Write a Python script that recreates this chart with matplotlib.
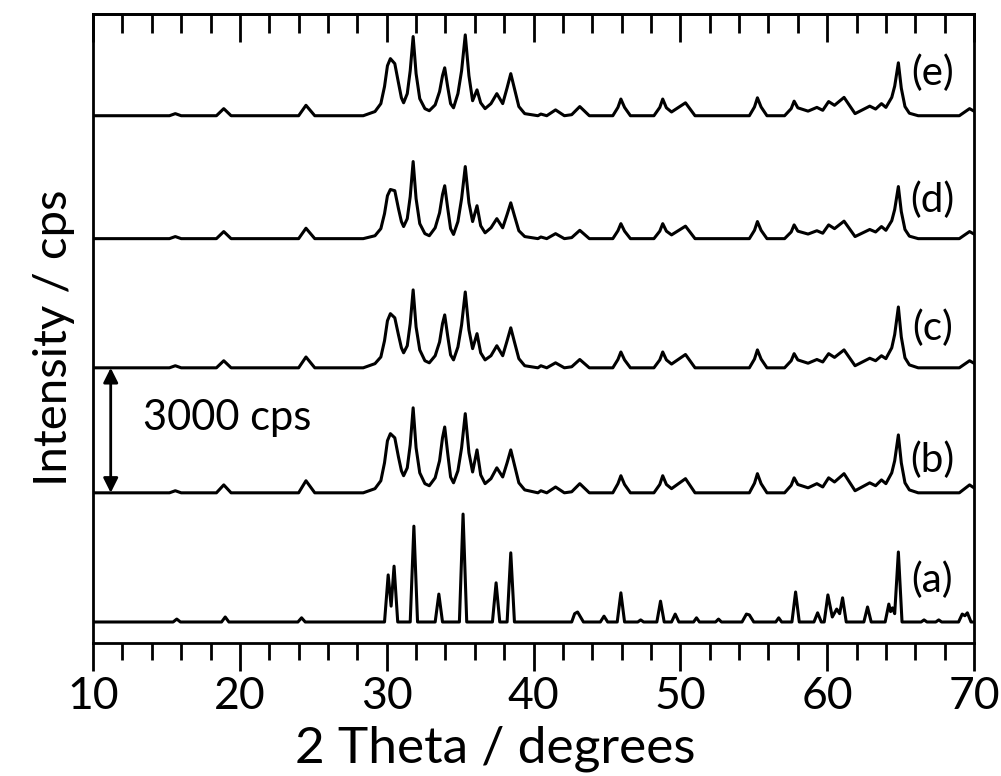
# -*- coding: utf-8 -*-
"""
XRD patterns (a)-(e), stacked with offsets
"""

# ============================================================
# Import Libraries
# ============================================================

import numpy as np
import matplotlib
matplotlib.use("Agg")
import matplotlib.pyplot as plt

plt.rcParams['font.family'] = ['Lato', 'DejaVu Sans']

# ============================================================
# Data (2 theta in degrees, intensity in cps above own baseline)
# ============================================================

# (a) reference pattern: sharp lines, vertices
pattern_a = [
    (10, 0), (15.45, 0), (15.7, 70), (15.95, 0),
    (18.75, 0), (19.0, 120), (19.25, 0),
    (23.95, 0), (24.2, 100), (24.45, 0),
    (29.85, 0), (30.1, 1130), (30.3, 380), (30.5, 1340), (30.75, 0),
    (31.6, 0), (31.85, 2300), (32.1, 0),
    (33.3, 0), (33.55, 670), (33.8, 0),
    (34.95, 0), (35.2, 2590), (35.45, 0),
    (37.2, 0), (37.45, 940), (37.7, 0),
    (38.2, 0), (38.45, 1660), (38.7, 0),
    (42.6, 0), (42.8, 200), (43.0, 240), (43.4, 0),
    (44.55, 0), (44.8, 140), (45.05, 0),
    (45.7, 0), (45.95, 700), (46.2, 0),
    (47.1, 0), (47.3, 50), (47.5, 0),
    (48.4, 0), (48.65, 500), (48.9, 0),
    (49.4, 0), (49.65, 190), (49.9, 0),
    (50.9, 0), (51.1, 100), (51.3, 0),
    (52.4, 0), (52.6, 70), (52.8, 0),
    (54.2, 0), (54.5, 190), (54.7, 170), (55.0, 0),
    (56.5, 0), (56.7, 100), (56.9, 0),
    (57.6, 0), (57.85, 720), (58.1, 0),
    (59.1, 0), (59.35, 220), (59.6, 0),
    (59.8, 0), (60.05, 650), (60.35, 120), (60.65, 310), (60.85, 200),
    (61.05, 580), (61.3, 0),
    (62.5, 0), (62.75, 360), (63.0, 0),
    (63.95, 0), (64.2, 430), (64.32, 250), (64.45, 340), (64.6, 200),
    (64.85, 1680), (65.1, 0),
    (66.4, 0), (66.6, 50), (66.8, 0),
    (67.4, 0), (67.6, 50), (67.8, 0),
    (68.95, 0), (69.2, 190), (69.38, 150), (69.55, 220), (69.8, 0), (70, 0),
]

# (b)-(e) broad patterns share one set of 2 theta vertices
tt_g1 = [10.0, 15.2, 15.6, 16.0, 18.4, 18.9, 19.4, 24.0, 24.5, 25.1, 28.4]
tt_g2 = [29.2, 29.6, 29.85, 30.05, 30.25, 30.55, 30.8, 31.0, 31.15, 31.4, 31.6,
         31.8, 32.0, 32.25, 32.6, 32.9, 33.3, 33.6, 33.8, 33.95, 34.15, 34.35,
         34.55, 34.85, 35.1, 35.35, 35.6, 35.85, 36.15, 36.4, 36.7, 37.1, 37.5,
         37.9, 38.2, 38.45, 38.7, 39.0, 39.4]
tt_g4 = [40.3, 40.5, 40.9, 41.5, 42.1, 42.6, 43.15, 43.8, 45.4, 45.75, 45.95,
         46.2, 46.6]
tt_g5 = [48.2, 48.6, 48.8, 49.05, 49.4, 50.35, 51.0, 54.7, 55.05, 55.25, 55.5,
         55.9, 57.1, 57.55, 57.75, 58.0, 58.7]
tt_g6 = [59.3, 59.7, 60.1, 60.5, 61.15, 61.9, 62.9, 63.3, 63.7, 64.0, 64.4,
         64.6, 64.85, 65.05, 65.3, 65.6, 66.2, 69.0, 69.7, 70.0]

int_b = ([0, 0, 50, 0, 0, 190, 0, 0, 290, 0, 0]
         + [100, 290, 720, 1250, 1420, 1320, 860, 530, 410, 600, 1150,
            2040, 1080, 480, 220, 170, 360, 770, 1320, 1580, 960, 380,
            240, 530, 1080, 1900, 960, 500, 1030, 430, 220, 340, 600,
            380, 720, 1030, 670, 240, 70]
         + [0, 50, 0, 140, 0, 25, 220, 0, 0, 220, 410, 200, 0]
         + [0, 200, 410, 200, 100, 340, 0, 0, 230, 460, 220, 0, 0, 180, 360, 200, 120]
         + [220, 140, 360, 260, 460, 50, 240, 170, 310, 220, 480, 770, 1390,
            720, 240, 70, 0, 0, 190, 120])

int_c = ([0, 0, 50, 0, 0, 170, 0, 0, 260, 0, 0]
         + [100, 260, 650, 1130, 1300, 1200, 790, 480, 360, 530, 1060,
            1870, 980, 430, 170, 120, 290, 620, 1060, 1270, 770, 310,
            190, 500, 1030, 1820, 910, 460, 820, 360, 190, 290, 530,
            290, 650, 960, 620, 220, 50]
         + [0, 50, 0, 120, 0, 25, 200, 0, 0, 200, 380, 190, 0]
         + [0, 190, 380, 190, 90, 320, 0, 0, 210, 430, 210, 0, 0, 170, 340, 190, 110]
         + [200, 140, 340, 250, 430, 50, 230, 170, 290, 220, 480, 800, 1460,
            740, 240, 70, 0, 0, 170, 110])

int_d = ([0, 0, 50, 0, 0, 170, 0, 0, 250, 0, 0]
         + [70, 240, 600, 1030, 1180, 1150, 720, 410, 290, 480, 1010,
            1850, 960, 360, 120, 70, 260, 620, 1060, 1270, 740, 240,
            100, 410, 960, 1730, 860, 410, 790, 310, 140, 260, 480,
            260, 580, 860, 550, 190, 50]
         + [0, 40, 0, 120, 0, 25, 200, 0, 0, 190, 360, 180, 0]
         + [0, 180, 360, 180, 90, 300, 0, 0, 200, 410, 200, 0, 0, 160, 330, 180, 110]
         + [190, 130, 330, 240, 420, 50, 220, 160, 290, 200, 430, 700, 1250,
            650, 220, 60, 0, 0, 170, 110])

int_e = ([0, 0, 50, 0, 0, 170, 0, 0, 250, 0, 0]
         + [100, 290, 700, 1200, 1370, 1250, 790, 430, 310, 530, 1080,
            1900, 1010, 410, 170, 120, 260, 580, 960, 1150, 700, 290,
            190, 530, 1080, 1940, 960, 360, 620, 310, 170, 290, 530,
            290, 670, 1010, 650, 220, 50]
         + [0, 40, 0, 140, 0, 25, 220, 0, 0, 200, 400, 200, 0]
         + [0, 200, 400, 190, 90, 310, 0, 0, 210, 430, 210, 0, 0, 170, 350, 190, 110]
         + [200, 130, 340, 250, 440, 50, 230, 160, 290, 200, 440, 710, 1270,
            660, 220, 60, 0, 0, 170, 110])

labels = ["(a)", "(b)", "(c)", "(d)", "(e)"]
offsets = [0, 3100, 6100, 9200, 12150]
scale_bar = 3000

# ============================================================
# Build traces
# ============================================================

tt_broad = np.array(tt_g1 + tt_g2 + tt_g4 + tt_g5 + tt_g6)

traces = [np.array(pattern_a).T]
for ints in [int_b, int_c, int_d, int_e]:
    traces.append(np.vstack([tt_broad, np.array(ints)]))

# ============================================================
# Plot
# ============================================================

fig = plt.figure(figsize=(10.01, 7.76), dpi=100)
ax = fig.add_axes([0.093, 0.1714, 0.880, 0.8106])

for (x, y), off in zip(traces, offsets):
    ax.plot(x, y + off, color="black", lw=2.2, solid_joinstyle="round")

label_dy = [1000, 790, 950, 930, 1030]
for lab, off, dy in zip(labels, offsets, label_dy):
    ax.text(67.15, off + dy, lab, fontsize=29, ha="center", va="center")

# 3000 cps scale arrow
ax.annotate("", xy=(11.2, offsets[1]), xytext=(11.2, offsets[1] + scale_bar),
            arrowprops=dict(arrowstyle="<|-|>", color="black", lw=2,
                            mutation_scale=22, shrinkA=0, shrinkB=0))
ax.text(19.1, 4900, "3000 cps", fontsize=30, ha="center", va="center")

ax.set_xlim(10, 70)
ax.set_ylim(-504, 14592)

ax.set_xticks(np.arange(10, 71, 10))
ax.set_xticks(np.arange(10, 71, 2), minor=True)
ax.set_yticks([])
ax.tick_params(axis="x", which="major", direction="out", length=20, width=2,
               labelsize=32, pad=4)
ax.tick_params(axis="x", which="minor", direction="out", length=12, width=2)

top = ax.secondary_xaxis("top")
top.set_xticks(np.arange(10, 71, 10))
top.set_xticks(np.arange(10, 71, 2), minor=True)
top.tick_params(axis="x", which="major", direction="in", length=20, width=2,
                labeltop=False)
top.tick_params(axis="x", which="minor", direction="in", length=14, width=2)
top.spines["top"].set_linewidth(2)

for s in ax.spines.values():
    s.set_linewidth(2)

# axis titles
fig.text(495 / 1001, 1 - 762 / 776, "2 Theta / degrees", fontsize=37,
         ha="center", va="baseline")
fig.text(67 / 1001, 1 - 338 / 776, "Intensity / cps", fontsize=34,
         rotation=90, rotation_mode="anchor", ha="center", va="baseline")

plt.savefig("out.png", dpi=100)
